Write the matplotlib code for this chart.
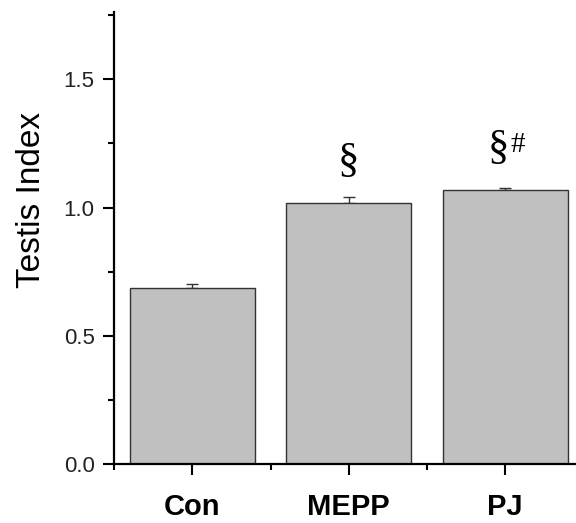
import matplotlib
matplotlib.use('Agg')
import matplotlib.pyplot as plt
from matplotlib.ticker import MultipleLocator

groups = ['Con', 'MEPP', 'PJ']
testis_index = [0.686, 1.017, 1.068]
sem = [0.017, 0.026, 0.009]
marks = ['', '\u00a7', '\u00a7']
marks2 = ['', '', '#']

plt.rcParams['font.family'] = 'Liberation Sans'

fig = plt.figure(figsize=(5.76, 5.23), dpi=100)
ax = fig.add_axes([0.198, 0.1122, 0.815, 0.8643])

x = list(range(1, len(groups) + 1))
ax.bar(x, testis_index, width=0.8, color='#c0c0c0', edgecolor='#333333', linewidth=1.0, zorder=2)
ax.errorbar(x, testis_index, yerr=[[0] * len(sem), sem], fmt='none', ecolor='#333333',
            elinewidth=1.0, capsize=4.3, capthick=1.0, zorder=1)

# significance marks above bars
for xi, v, e, m, m2 in zip(x, testis_index, sem, marks, marks2):
    if m and not m2:
        ax.annotate(m, (xi, v + e), xytext=(0, 25), textcoords='offset points',
                    ha='center', va='center', fontsize=31, family='Liberation Serif')
    elif m:
        ax.annotate(m, (xi, v + e), xytext=(-5, 28), textcoords='offset points',
                    ha='center', va='center', fontsize=31, family='Liberation Serif')
        ax.annotate(m2, (xi, v + e), xytext=(9, 31), textcoords='offset points',
                    ha='center', va='center', fontsize=21, family='Liberation Serif')

ax.set_xlim(0.5, 3.5)
ax.set_ylim(0, 1.761)
ax.set_xticks(x)
ax.set_xticklabels(groups, fontsize=21, fontweight='bold')
ax.xaxis.set_minor_locator(MultipleLocator(0.5))
ax.yaxis.set_major_locator(MultipleLocator(0.5))
ax.yaxis.set_minor_locator(MultipleLocator(0.25))
ax.yaxis.set_major_formatter(matplotlib.ticker.FormatStrFormatter('%.1f'))
ax.tick_params(axis='both', which='major', length=8, width=1.5, direction='out')
ax.tick_params(axis='both', which='minor', length=4, width=1.5, direction='out')
ax.tick_params(axis='y', labelsize=16, pad=6, labelcolor='#222222')
ax.tick_params(axis='x', pad=13)
ax.set_ylabel('Testis Index', fontsize=24)
ax.yaxis.set_label_coords(-0.143, 0.585)

for s in ['top', 'right']:
    ax.spines[s].set_visible(False)
for s in ['left', 'bottom']:
    ax.spines[s].set_linewidth(1.6)

fig.savefig('out.png', dpi=100)
